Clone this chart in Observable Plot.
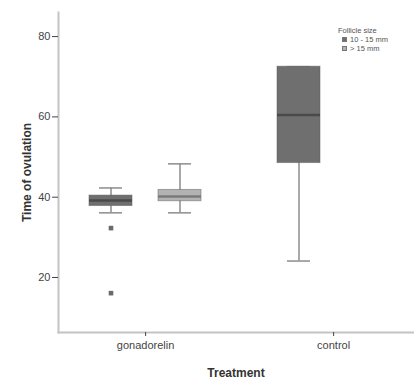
<!DOCTYPE html>
<html>
<head>
<meta charset="utf-8">
<script src="https://cdn.jsdelivr.net/npm/d3@7"></script>
<script src="https://cdn.jsdelivr.net/npm/@observablehq/plot@0.6"></script>
<style>
  html, body { margin: 0; padding: 0; background: #fff; }
  #wrap { position: relative; width: 414px; height: 380px; font-family: "Liberation Sans", Arial, sans-serif; }
  #legend { position: absolute; left: 338px; top: 26px; font-size: 7.5px; color: #555; line-height: 9px; }
  #legend .row { display: flex; align-items: center; gap: 3px; margin-left: 4px; }
  #legend .sw { width: 5px; height: 5px; display: inline-block; box-sizing: border-box; }
  svg [aria-label$="axis label"] text, svg [aria-label$="axis label"] { font-weight: bold; font-size: 12px; fill: #333; }
</style>
</head>
<body>
<div id="wrap"></div>
<script>
// Summary values
const treatment   = ["gonadorelin", "gonadorelin", "control"];
const follicle    = ["10 - 15 mm", "> 15 mm", "10 - 15 mm"];
const whiskerLow  = [36.1, 36.1, 24.1];
const q1          = [37.8, 39.0, 48.5];
const median      = [39.2, 40.2, 60.5];
const q3          = [40.4, 41.8, 72.5];
const whiskerHigh = [42.3, 48.3, 72.5];

const outlierTreatment = ["gonadorelin", "gonadorelin"];
const outlierFollicle  = ["10 - 15 mm", "10 - 15 mm"];
const outlierValue     = [32.3, 16.1];

const treatmentOrder = ["gonadorelin", "control"];
const follicleOrder  = ["10 - 15 mm", "> 15 mm"];
const yTicks = [20, 40, 60, 80];
const boxColors = ["#6f6f6f", "#b3b3b3"];
const medianColors = ["#4a4a4a", "#7a7a7a"];

const boxes = treatment.map((t, i) => ({
  treatment: t, follicle: follicle[i],
  lo: whiskerLow[i], q1: q1[i], med: median[i], q3: q3[i], hi: whiskerHigh[i]
}));
const outliers = outlierTreatment.map((t, i) => ({
  treatment: t, follicle: outlierFollicle[i], value: outlierValue[i]
}));

const medColor = d => medianColors[follicleOrder.indexOf(d.follicle)];

const chart = Plot.plot({
  width: 414,
  height: 380,
  marginLeft: 58,
  marginRight: 0,
  marginTop: 12,
  marginBottom: 48,
  style: { fontFamily: "Liberation Sans, Arial, sans-serif", fontSize: "11px", color: "#444", background: "#fff" },
  fx: {
    domain: treatmentOrder,
    paddingInner: 0.114,
    paddingOuter: 0,
    align: 0,
    axis: null
  },
  x: { domain: follicleOrder, paddingInner: 0.381, paddingOuter: 0.393, align: 0.567, axis: null },
  y: {
    domain: [6.3, 86],
    axis: null
  },
  color: { domain: follicleOrder, range: boxColors },
  marks: [
    Plot.frame({ anchor: "bottom", facet: "super", stroke: "#c4c4c4", strokeWidth: 2 }),
    Plot.frame({ anchor: "left", facet: "super", stroke: "#c4c4c4", strokeWidth: 2 }),
    Plot.axisY({
      ticks: yTicks,
      tickSize: 6,
      tickPadding: 2,
      label: "Time of ovulation",
      labelAnchor: "center",
      labelArrow: "none",
      labelOffset: 36
    }),
    Plot.axisFx({
      anchor: "bottom",
      tickSize: 4,
      tickPadding: 5,
      dx: 3.6,
      label: "Treatment",
      labelAnchor: "center",
      labelArrow: "none",
      labelOffset: 44
    }),
    Plot.ruleX(boxes, { fx: "treatment", x: "follicle", y1: "lo", y2: "hi", stroke: "#8c8c8c", strokeWidth: 1.5 }),
    Plot.tickY(boxes, { fx: "treatment", x: "follicle", y: "lo", stroke: "#8c8c8c", strokeWidth: 1.5, insetLeft: 10, insetRight: 10 }),
    Plot.tickY(boxes, { fx: "treatment", x: "follicle", y: "hi", stroke: "#8c8c8c", strokeWidth: 1.5, insetLeft: 10, insetRight: 10 }),
    Plot.barY(boxes, { fx: "treatment", x: "follicle", y1: "q1", y2: "q3", fill: "follicle", stroke: "#5e5e5e", strokeOpacity: 0.5 }),
    Plot.tickY(boxes, { fx: "treatment", x: "follicle", y: "med", stroke: medColor, strokeWidth: 2.5 }),
    Plot.dot(outliers, { fx: "treatment", x: "follicle", y: "value", symbol: "square", r: 2.6, fill: "#6a6a6a", stroke: "none" })
  ]
});

const wrap = document.getElementById("wrap");
wrap.appendChild(chart);

const legend = document.createElement("div");
legend.id = "legend";
legend.innerHTML = `<div>Follicle size</div>` + follicleOrder.map((f, i) =>
  `<div class="row"><span class="sw" style="background:${boxColors[i]};border:1px solid #777"></span><span>${f}</span></div>`
).join("");
wrap.appendChild(legend);
</script>
</body>
</html>
